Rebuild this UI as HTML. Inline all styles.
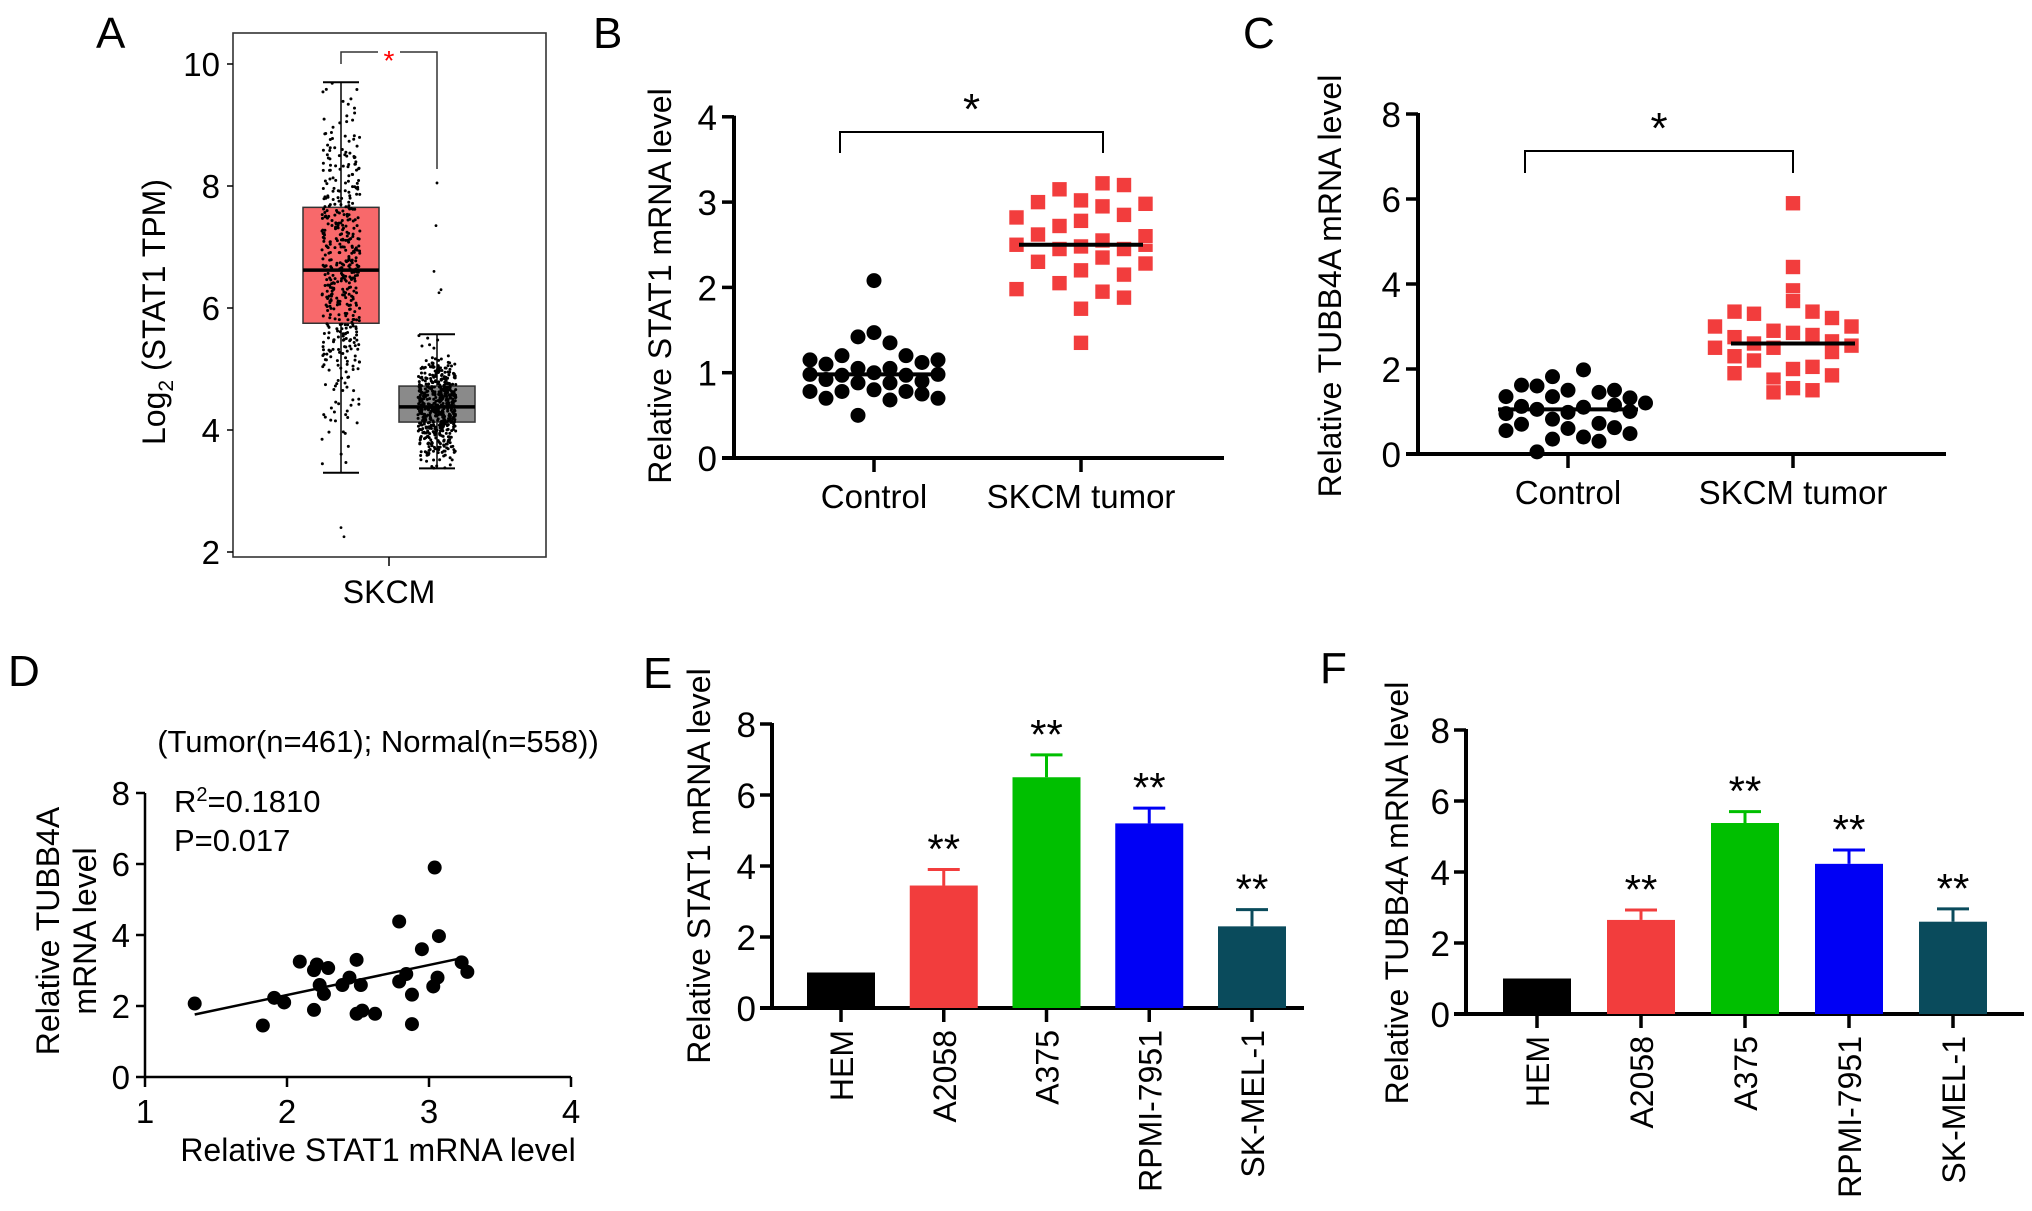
<!DOCTYPE html>
<html><head><meta charset="utf-8"><style>
html,body{margin:0;padding:0;background:#fff;}
svg{display:block;font-family:"Liberation Sans",Arial,sans-serif;}
</style></head><body>
<svg id="fig" width="2032" height="1211" viewBox="0 0 2032 1211" xmlns="http://www.w3.org/2000/svg"></svg>
<script>
// ---------- DATA ----------
// Panel A box stats [q3, median, q1, whiskerHi, whiskerLo]
const aGroups = ["Tumor", "Normal"];
const aTumorStats = [7.65, 6.62, 5.75, 9.7, 3.3];
const aNormalStats = [4.72, 4.38, 4.13, 5.57, 3.37];
const aTicks = [2, 4, 6, 8, 10];
// Panel B
const bTicks = [0, 1, 2, 3, 4];
const bControlVals = [2.08,1.47,1.42,1.35,1.2,1.2,1.15,1.1,1.15,1.12,1.05,1.05,1.0,0.98,0.97,0.97,0.98,0.92,0.9,0.88,0.88,0.8,0.78,0.78,0.78,0.75,0.7,0.7,0.68,0.5];
const bControlCols = [0,0,-1,1,-2,2,-4,-3,4,3,-1,1,0,-4,-2,2,4,-3,3,-1,1,0,-4,-2,2,3,-3,4,1,-1];
const bTumorVals = [3.22,3.2,3.15,3.02,3.0,2.98,2.95,2.85,2.82,2.78,2.72,2.62,2.55,2.5,2.5,2.48,2.45,2.45,2.35,2.3,2.28,2.2,2.15,2.05,1.98,1.95,1.88,1.75,1.35,2.6];
const bTumorCols = [1,2,-1,0,-2,3,1,2,-3,0,-1,-2,1,3,-3,0,2,-1,1,-2,3,0,2,-1,-3,1,2,0,0,3];
const bMedians = [0.98, 2.5];
// Panel C
const cTicks = [0, 2, 4, 6, 8];
const cControlVals = [1.98,1.82,1.62,1.6,1.5,1.45,1.5,1.35,1.32,1.35,1.2,1.12,1.1,1.15,1.05,0.98,1.0,0.95,0.82,0.7,0.72,0.6,0.62,0.55,0.48,0.4,0.35,0.3,0.05];
const cControlCols = [1,-1,-3,-2,3,2,0,-4,4,-1,5,-3,1,3,-2,0,4,-4,-1,-3,2,0,3,-4,4,1,-1,2,-2];
const cTumorVals = [5.9,4.4,3.85,3.6,3.35,3.3,3.35,3.2,3.0,3.0,2.9,2.85,2.8,2.75,2.65,2.6,2.5,2.55,2.5,2.3,2.2,2.05,2.0,1.9,1.85,1.75,1.55,1.45,1.5,2.4];
const cTumorCols = [0,0,0,0,-3,-2,1,2,-4,3,-1,0,1,-3,2,-2,-4,3,-1,-3,-2,1,0,-3,2,-1,0,-1,1,2];
const cMedians = [1.05, 2.6];
// Panel D
const dX = [1.35,1.83,1.91,1.98,2.09,2.19,2.19,2.21,2.23,2.26,2.29,2.39,2.44,2.49,2.52,2.49,2.53,2.62,2.79,2.79,2.84,2.88,2.88,2.95,3.03,3.04,3.06,3.07,3.23,3.27];
const dY = [2.07,1.45,2.23,2.1,3.25,1.89,3.01,3.17,2.59,2.34,3.07,2.59,2.8,3.3,2.59,1.78,1.87,1.78,2.69,4.38,2.9,2.32,1.49,3.6,2.55,5.9,2.8,3.97,3.23,2.96];
const dXTicks = [1, 2, 3, 4];
const dYTicks = [0, 2, 4, 6, 8];
// Panels E/F
const cellLines = ["HEM","A2058","A375","RPMI-7951","SK-MEL-1"];
const eMeans = [1.0, 3.45, 6.5, 5.2, 2.3];
const eErrs = [0, 0.45, 0.63, 0.43, 0.47];
const fMeans = [1.0, 2.65, 5.38, 4.23, 2.6];
const fErrs = [0, 0.28, 0.32, 0.39, 0.36];
const efTicks = [0, 2, 4, 6, 8];
const efSig = ["", "**", "**", "**", "**"];
const barColors = ["#000000","#f23d3d","#00bf00","#0000f5","#0a4b5c"];

// ---------- HELPERS ----------
const svg = document.getElementById('fig');
const NS = "http://www.w3.org/2000/svg";
function mk(tag, attrs, parent) {
  const e = document.createElementNS(NS, tag);
  for (const k in attrs) e.setAttribute(k, attrs[k]);
  (parent || svg).appendChild(e);
  return e;
}
function group(name) {
  const g = mk('g', {});
  
  
  return g;
}
function txt(g, x, y, s, size, anchor, name, extra) {
  const t = mk('text', Object.assign({x: x, y: y, 'font-size': size, 'text-anchor': anchor || 'middle', fill: '#000'}, extra || {}), g);
  t.textContent = s;
  
  
  return t;
}
function line(g, x1, y1, x2, y2, w, name, col) {
  const l = mk('line', {x1: x1, y1: y1, x2: x2, y2: y2, stroke: col || '#000', 'stroke-width': w}, g);
  
  
  return l;
}
function panelLabel(s, x, y) {
  const g = group('panel-label-' + s.toLowerCase());
  txt(g, x, y, s, 44, 'start', 'panel-label');
}

// ---------- PANEL A ----------
(function(){
  const g = group('panel-a-boxplot');
  const yA = v => 552 - (v - 2) * 61;
  panelLabel('A', 96, 48);
  const fr = mk('rect', {x: 233, y: 33, width: 313, height: 524, fill: 'none', stroke: '#333', 'stroke-width': 1.6}, g);
  
  
  aTicks.forEach(v => {
    line(g, 227, yA(v), 233, yA(v), 1.5, 'y-tick');
    txt(g, 220, yA(v) + 12, String(v), 33, 'end', 'y-tick-label');
  });
  line(g, 389, 557, 389, 566, 1.5, 'x-tick');
  txt(g, 389, 603, 'SKCM', 32, 'middle', 'x-tick-label');
  const yt = txt(g, 0, 0, '', 32, 'middle', 'y-axis-title', {transform: 'translate(165,312) rotate(-90)'});
  yt.innerHTML = 'Log<tspan font-size="21" dy="8">2</tspan><tspan dy="-8"> (STAT1 TPM)</tspan>';
  const centers = [341, 437];
  const colors = ['#f8696b', '#8a8a8a'];
  const stats = [aTumorStats, aNormalStats];
  let seed = 7;
  const rnd = () => { seed = (seed * 16807) % 2147483647; return seed / 2147483647; };
  stats.forEach((s, i) => {
    const cx = centers[i];
    const gb = group('box-' + aGroups[i].toLowerCase());
    svg.removeChild(gb); g.appendChild(gb);
    line(gb, cx, yA(s[3]), cx, yA(s[0]), 1.5, 'whisker-upper', '#000');
    line(gb, cx, yA(s[2]), cx, yA(s[4]), 1.5, 'whisker-lower', '#000');
    line(gb, cx - 18, yA(s[3]), cx + 18, yA(s[3]), 2, 'whisker-cap');
    line(gb, cx - 18, yA(s[4]), cx + 18, yA(s[4]), 2, 'whisker-cap');
    const r = mk('rect', {x: cx - 38, y: yA(s[0]), width: 76, height: yA(s[2]) - yA(s[0]), fill: colors[i], stroke: '#333', 'stroke-width': 1.5}, gb);
    
    
    const n = i === 0 ? 480 : 560;
    for (let k = 0; k < n; k++) {
      const u = (rnd() + rnd() + rnd() + rnd()) / 4;
      const z = (u - 0.5) * 2;
      const iqr = s[0] - s[2];
      let v = s[1] + z * iqr * (i === 0 ? 2.1 : 2.4);
      if (v > s[3]) v = s[3] - rnd() * 0.3;
      if (v < s[4]) v = s[4] + rnd() * 0.3;
      const jx = cx + (rnd() - 0.5) * 38;
      mk('circle', {cx: jx, cy: yA(v), r: 1.5, fill: '#000'}, gb);
    }
    line(gb, cx - 38, yA(s[1]), cx + 38, yA(s[1]), 3.5, 'median-line');
  });
  [[341,2.4],[344,2.25],[437,8.05],[436,7.35],[434,6.6],[441,6.3],[439,6.25]].forEach(p => mk('circle', {cx: p[0], cy: yA(p[1]), r: 1.4, fill: '#000'}, g));
  const br = mk('polyline', {points: `341,${yA(10)} 341,52 437,52 437,169`, fill: 'none', stroke: '#333', 'stroke-width': 1.5}, g);
  
  
  mk('rect', {x: 378, y: 45, width: 22, height: 14, fill: '#fff'}, g);
  txt(g, 389, 70, '*', 28, 'middle', 'significance-star', {fill: '#ff0000'});
})();

// ---------- SCATTER PANELS B & C ----------
function dotPanel(opt) {
  const g = group(opt.name);
  const y = v => opt.y0 - v * opt.unit;
  panelLabel(opt.label, opt.lx, opt.ly);
  line(g, opt.ax, y(opt.ticks[opt.ticks.length - 1]) - 1, opt.ax, opt.y0 + 2, 4, 'y-axis');
  line(g, opt.ax - 12, opt.y0, opt.xEnd, opt.y0, 4, 'x-axis');
  opt.ticks.forEach(v => {
    line(g, opt.ax - 12, y(v), opt.ax, y(v), 3.5, 'y-tick');
    txt(g, opt.ax - 17, y(v) + 13, String(v), 35, 'end', 'y-tick-label');
  });
  ['Control', 'SKCM tumor'].forEach((s, i) => {
    line(g, opt.xs[i], opt.y0, opt.xs[i], opt.y0 + 14, 3.5, 'x-tick');
    txt(g, opt.xs[i], opt.y0 + 50, s, 33, 'middle', 'x-tick-label');
  });
  txt(g, 0, 0, opt.ytitle, 32, 'middle', 'y-axis-title', {transform: `translate(${opt.tx},${opt.ty}) rotate(-90)`});
  const br = mk('polyline', {points: `${opt.br[0]},${opt.br[3]} ${opt.br[0]},${opt.br[2]} ${opt.br[1]},${opt.br[2]} ${opt.br[1]},${opt.br[3]}`, fill: 'none', stroke: '#000', 'stroke-width': 2}, g);
  
  
  txt(g, (opt.br[0] + opt.br[1]) / 2, opt.br[2] - 8, '*', 44, 'middle', 'significance-star');
  opt.cVals.forEach((v, i) => {
    const c = mk('circle', {cx: opt.xs[0] + opt.cCols[i] * opt.cSp, cy: y(v), r: 7.5, fill: '#000'}, g);
    
    
  });
  opt.tVals.forEach((v, i) => {
    const r = mk('rect', {x: opt.xs[1] + opt.tCols[i] * opt.tSp - 7.5, y: y(v) - 7.5, width: 15, height: 15, fill: '#f23d3d', stroke: '#fff', 'stroke-width': 0.6}, g);
    
    
  });
  line(g, opt.xs[0] - 70, y(opt.med[0]), opt.xs[0] + 70, y(opt.med[0]), 4, 'control-median');
  line(g, opt.xs[1] - 62, y(opt.med[1]), opt.xs[1] + 62, y(opt.med[1]), 4, 'tumor-median');
}
dotPanel({name: 'panel-b-stat1', label: 'B', lx: 593, ly: 48, ax: 734, y0: 458, unit: 85.3, xEnd: 1224, ticks: bTicks,
  xs: [874, 1081], ytitle: 'Relative STAT1 mRNA level', tx: 671, ty: 286, br: [840, 1103, 132, 153],
  cVals: bControlVals, cCols: bControlCols, cSp: 16, tVals: bTumorVals, tCols: bTumorCols, tSp: 21.5, med: bMedians});
dotPanel({name: 'panel-c-tubb4a', label: 'C', lx: 1243, ly: 48, ax: 1418, y0: 454, unit: 42.5, xEnd: 1946, ticks: cTicks,
  xs: [1568, 1793], ytitle: 'Relative TUBB4A mRNA level', tx: 1341, ty: 286, br: [1525, 1793, 151, 173],
  cVals: cControlVals, cCols: cControlCols, cSp: 15.5, tVals: cTumorVals, tCols: cTumorCols, tSp: 19.5, med: cMedians});

// ---------- PANEL D ----------
(function(){
  const g = group('panel-d-correlation');
  const x = v => 145 + (v - 1) * 142;
  const y = v => 1077 - v * 35.5;
  panelLabel('D', 8, 686);
  txt(g, 378, 752, '(Tumor(n=461); Normal(n=558))', 31, 'middle', 'chart-title');
  line(g, 145, y(8), 145, 1078, 2.5, 'y-axis');
  line(g, 145, 1077, 571, 1077, 2.5, 'x-axis');
  dYTicks.forEach(v => { line(g, 136, y(v), 145, y(v), 2.5, 'y-tick'); txt(g, 130, y(v) + 12, String(v), 33, 'end', 'y-tick-label'); });
  dXTicks.forEach(v => { line(g, x(v), 1077, x(v), 1087, 2.5, 'x-tick'); txt(g, x(v), 1123, String(v), 33, 'middle', 'x-tick-label'); });
  txt(g, 378, 1161, 'Relative STAT1 mRNA level', 32, 'middle', 'x-axis-title');
  txt(g, 0, 0, 'Relative TUBB4A', 32, 'middle', 'y-axis-title', {transform: 'translate(59,931) rotate(-90)'});
  txt(g, 0, 0, 'mRNA level', 32, 'middle', 'y-axis-title-line2', {transform: 'translate(96,931) rotate(-90)'});
  const r2 = txt(g, 174, 812, '', 31, 'start', 'r-squared-label');
  r2.innerHTML = 'R<tspan font-size="20" dy="-11">2</tspan><tspan dy="11">=0.1810</tspan>';
  txt(g, 174, 851, 'P=0.017', 31, 'start', 'p-value-label');
  dX.forEach((v, i) => {
    const c = mk('circle', {cx: x(v), cy: y(dY[i]), r: 7, fill: '#000'}, g);
    
    
  });
  const n = dX.length, mx = dX.reduce((a,b)=>a+b)/n, my = dY.reduce((a,b)=>a+b)/n;
  let sxy = 0, sxx = 0;
  dX.forEach((v,i)=>{ sxy += (v-mx)*(dY[i]-my); sxx += (v-mx)*(v-mx); });
  const b = sxy / sxx, a = my - b * mx;
  const x1 = Math.min(...dX), x2 = Math.max(...dX) - 0.03;
  line(g, x(x1), y(a + b*x1), x(x2), y(a + b*x2), 2.5, 'regression-line');
})();

// ---------- BAR PANELS E & F ----------
function barPanel(opt) {
  const g = group(opt.name);
  const y = v => opt.y0 - v * 35.5;
  panelLabel(opt.label, opt.lx, opt.ly);
  line(g, opt.ax, y(8) - 1, opt.ax, opt.y0 + 2, 4, 'y-axis');
  line(g, opt.ax - 12, opt.y0, opt.xEnd, opt.y0, 4, 'x-axis');
  efTicks.forEach(v => { line(g, opt.ax - 12, y(v), opt.ax, y(v), 3.5, 'y-tick'); txt(g, opt.ax - 16, y(v) + 13, String(v), 35, 'end', 'y-tick-label'); });
  txt(g, 0, 0, opt.ytitle, 32, 'middle', 'y-axis-title', {transform: `translate(${opt.tx},${opt.ty}) rotate(-90)`});
  cellLines.forEach((s, i) => {
    const cx = opt.x0 + i * opt.sp;
    const top = y(opt.means[i]);
    if (opt.errs[i] > 0) {
      line(g, cx, y(opt.means[i] + opt.errs[i]), cx, top, 3, 'error-bar', barColors[i]);
      line(g, cx - 16, y(opt.means[i] + opt.errs[i]), cx + 16, y(opt.means[i] + opt.errs[i]), 3, 'error-cap', barColors[i]);
    }
    const r = mk('rect', {x: cx - 34, y: top, width: 68, height: opt.y0 - top, fill: barColors[i]}, g);
    
    
    if (efSig[i]) txt(g, cx, y(opt.means[i] + opt.errs[i]) - 6, efSig[i], 42, 'middle', 'significance-stars');
    line(g, cx, opt.y0, cx, opt.y0 + 14, 3.5, 'x-tick');
    txt(g, 0, 0, s, 32, 'end', 'x-tick-label', {transform: `translate(${cx + 12},${opt.y0 + 22}) rotate(-90)`});
  });
}
barPanel({name: 'panel-e-stat1-cells', label: 'E', lx: 643, ly: 688, ax: 772, y0: 1008, xEnd: 1304, x0: 841, sp: 102.75,
  means: eMeans, errs: eErrs, ytitle: 'Relative STAT1 mRNA level', tx: 710, ty: 866});
barPanel({name: 'panel-f-tubb4a-cells', label: 'F', lx: 1320, ly: 683, ax: 1466, y0: 1014, xEnd: 2024, x0: 1537, sp: 104,
  means: fMeans, errs: fErrs, ytitle: 'Relative TUBB4A mRNA level', tx: 1408, ty: 893});
</script>
</body></html>
